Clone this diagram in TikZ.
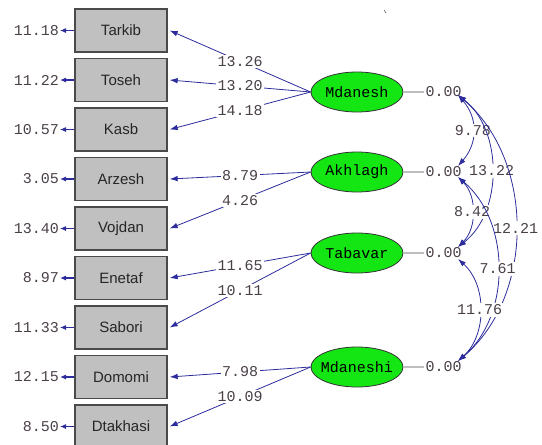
\documentclass[tikz,border=0pt]{standalone}
\usepackage{fontspec}
\setmainfont{Liberation Sans}
\newfontfamily\monofont{Liberation Mono}
\usetikzlibrary{arrows.meta,shapes.geometric}

\definecolor{boxfill}{HTML}{C0C0C0}
\definecolor{boxline}{HTML}{4A4A4A}
\definecolor{pathblue}{HTML}{2C2C9C}
\definecolor{numtext}{HTML}{4A4048}
\definecolor{latentgreen}{HTML}{14E614}
\definecolor{varline}{HTML}{BDBDBD}

\newcommand{\latentname}[1]{\makebox[40pt]{#1}}

\tikzset{
  obsbox/.style={draw=boxline, line width=1.3pt, fill=boxfill,
    minimum width=92pt, minimum height=43pt, inner sep=0pt,
    font=\fontsize{15}{18}\selectfont, text=black!85},
  latent/.style={ellipse, draw=black!80, line width=0.8pt, fill=latentgreen,
    minimum width=92pt, minimum height=40pt, inner sep=0pt,
    font=\monofont\fontsize{15}{18}\selectfont, text=black},
  numlab/.style={font=\monofont\fontsize{15}{18}\selectfont, text=numtext,
    inner sep=1pt},
  errnum/.style={numlab, anchor=east},
  varnum/.style={numlab, anchor=west},
  onpath/.style={numlab, fill=white, inner sep=1.5pt},
  pathtip/.style={-{Latex[length=8pt,width=5.5pt]}},
  loadline/.style={draw=pathblue, line width=0.8pt, pathtip},
  errline/.style={draw=pathblue, line width=1.1pt, -{Latex[length=6pt,width=5pt]}},
  covline/.style={draw=pathblue, line width=0.8pt,
    {Latex[length=8pt,width=5.5pt]}-{Latex[length=8pt,width=5.5pt]}},
  varlink/.style={draw=varline, line width=1.3pt}
}

\begin{document}
\begin{tikzpicture}[x=1pt,y=-1pt]
\useasboundingbox (0,0) rectangle (542,445);

% observed indicators with their error variances
\foreach \nm/\yy/\err in {Tarkib/30.5/11.18, Toseh/80/11.22, Kasb/129.5/10.57,
    Arzesh/179/3.05, Vojdan/228.5/13.40, Enetaf/278/8.97, Sabori/327.5/11.33,
    Domomi/377/12.15, Dtakhasi/426.5/8.50}{
  \node[obsbox] (\nm) at (121,\yy) {\nm};
  \node[errnum] (err\nm) at (60,\yy) {\err};
  \draw[errline] (\nm.west) -- (err\nm.east);
}

% latent factors
\node[latent] (Mdanesh)  at (357,92)  {\latentname{Mdanesh}};
\node[latent] (Akhlagh)  at (357,172) {\latentname{Akhlagh}};
\node[latent] (Tabavar)  at (357,253) {\latentname{Tabavar}};
\node[latent] (Mdaneshi) at (357,367) {\latentname{Mdaneshi}};

% factor variances
\foreach \f in {Mdanesh,Akhlagh,Tabavar,Mdaneshi}{
  \node[varnum] (var\f) at ([xshift=21pt]\f.east) {0.00};
  \draw[varlink] (\f.east) -- (var\f.west);
}

% factor loadings
\draw[loadline] (Mdanesh.west) -- node[onpath]{13.26} ([xshift=2pt]Tarkib.east);
\draw[loadline] (Mdanesh.west) -- node[onpath]{13.20} ([xshift=2pt]Toseh.east);
\draw[loadline] (Mdanesh.west) -- node[onpath]{14.18} ([xshift=2pt]Kasb.east);
\draw[loadline] (Akhlagh.west) -- node[onpath]{8.79}  ([xshift=2pt]Arzesh.east);
\draw[loadline] (Akhlagh.west) -- node[onpath]{4.26}  ([xshift=2pt]Vojdan.east);
\draw[loadline] (Tabavar.west) -- node[onpath]{11.65} ([xshift=2pt]Enetaf.east);
\draw[loadline] (Tabavar.west) -- node[onpath]{10.11} ([xshift=2pt]Sabori.east);
\draw[loadline] (Mdaneshi.west) -- node[onpath]{7.98}  ([xshift=2pt]Domomi.east);
\draw[loadline] (Mdaneshi.west) -- node[onpath]{10.09} ([xshift=2pt]Dtakhasi.east);

% covariance end points beside the variance labels
\coordinate (cA)  at (458,95);
\coordinate (cBt) at (458,166);
\coordinate (cBb) at (458,177);
\coordinate (cCt) at (458,247);
\coordinate (cCb) at (458,259);
\coordinate (cDt) at (458,361);

% factor covariances
\draw[covline] (cA)  .. controls (478,118) and (478,143) .. node[onpath]{9.78}  (cBt);
\draw[covline] (cA)  .. controls (503,130) and (503,212) .. node[onpath]{13.22} (cCt);
\draw[covline] (cA)  .. controls (535,160) and (535,296) .. node[onpath]{12.21} (cDt);
\draw[covline] (cBb) .. controls (477,196) and (477,228) .. node[onpath]{8.42}  (cCt);
\draw[covline] (cBb) .. controls (511,222) and (511,316) .. node[onpath]{7.61}  (cDt);
\draw[covline] (cCb) .. controls (487,285) and (487,335) .. node[onpath]{11.76} (cDt);

% small stray tick near the top
\draw[black!60, line width=0.6pt] (384,10) -- (386,13);
\end{tikzpicture}
\end{document}
